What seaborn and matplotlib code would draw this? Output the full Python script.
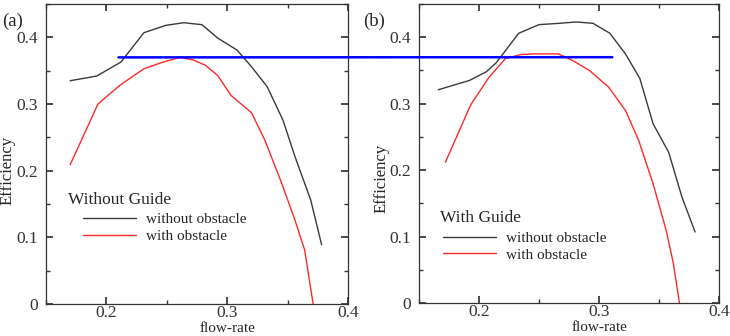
import matplotlib
matplotlib.use("Agg")
import matplotlib.pyplot as plt
from matplotlib.patches import ConnectionPatch
from matplotlib.ticker import MultipleLocator
import seaborn as sns

# panel (a): without guide
a_free_x = [0.170, 0.192, 0.212, 0.231, 0.249, 0.264, 0.279, 0.292, 0.308,
            0.320, 0.333, 0.346, 0.356, 0.369, 0.378]
a_free_y = [0.335, 0.342, 0.363, 0.407, 0.418, 0.422, 0.419, 0.399, 0.381,
            0.356, 0.326, 0.276, 0.221, 0.156, 0.089]
a_obst_x = [0.170, 0.193, 0.211, 0.231, 0.247, 0.261, 0.272, 0.282, 0.292,
            0.303, 0.320, 0.331, 0.344, 0.355, 0.364, 0.371]
a_obst_y = [0.209, 0.300, 0.328, 0.353, 0.363, 0.370, 0.366, 0.358, 0.343,
            0.313, 0.287, 0.246, 0.186, 0.131, 0.081, 0.0]

# panel (b): with guide
b_free_x = [0.166, 0.192, 0.206, 0.214, 0.220, 0.233, 0.250, 0.267, 0.281,
            0.295, 0.309, 0.322, 0.334, 0.345, 0.358, 0.369, 0.380]
b_free_y = [0.321, 0.335, 0.348, 0.361, 0.375, 0.406, 0.419, 0.421, 0.423,
            0.421, 0.406, 0.375, 0.338, 0.270, 0.227, 0.160, 0.107]
b_obst_x = [0.172, 0.193, 0.208, 0.222, 0.235, 0.246, 0.266, 0.278, 0.292,
            0.308, 0.322, 0.333, 0.345, 0.356, 0.362, 0.367]
b_obst_y = [0.212, 0.298, 0.339, 0.368, 0.374, 0.375, 0.375, 0.365, 0.350,
            0.325, 0.290, 0.245, 0.180, 0.109, 0.059, 0.0]

# horizontal reference line (blue) running from panel a into panel b
ref_level = 0.37
ref_start_a = 0.21
ref_end_b = 0.311

panel_tags = ["(a)", "(b)"]
guide_titles = ["Without Guide", "With Guide"]
series_names = ["without obstacle", "with obstacle"]
x_ticks = [0.2, 0.3, 0.4]
y_ticks = [0, 0.1, 0.2, 0.3, 0.4]

sns.set_theme(style="ticks")
plt.rcParams["font.family"] = ["Liberation Serif", "DejaVu Serif"]
plt.rcParams.update({
    "xtick.direction": "in", "ytick.direction": "in",
    "xtick.top": True, "ytick.right": True,
    "xtick.major.size": 5, "ytick.major.size": 5,
    "xtick.minor.size": 3, "ytick.minor.size": 3,
    "axes.edgecolor": "#333333", "axes.linewidth": 0.9,
    "xtick.color": "#333333", "ytick.color": "#333333",
})

fig = plt.figure(figsize=(7.3, 3.36), dpi=100)
ax1 = fig.add_axes([0.063, 0.095, 0.414, 0.893])
ax2 = fig.add_axes([0.574, 0.098, 0.411, 0.890])

panels = [
    (ax1, a_free_x, a_free_y, a_obst_x, a_obst_y),
    (ax2, b_free_x, b_free_y, b_obst_x, b_obst_y),
]
legend_pos = [(0.1225, 0.305), (0.08, 0.240)]
title_pos = [(0.073, 0.347), (0.07, 0.284)]
ylabel_xy = [(-0.10, 0.447), (-0.097, 0.418)]

for i, (ax, fx, fy, ox, oy) in enumerate(panels):
    sns.lineplot(x=fx, y=fy, ax=ax, color="#3a3a3a", lw=1.0, sort=False,
                 label=series_names[0])
    sns.lineplot(x=ox, y=oy, ax=ax, color="#ff2a2a", lw=1.0, sort=False,
                 label=series_names[1])
    ax.set_xlim(0.15, 0.4)
    ax.set_ylim(0, 0.45)
    ax.set_xticks(x_ticks)
    ax.set_xticklabels([f"{v:g}" for v in x_ticks])
    ax.set_yticks(y_ticks)
    ax.set_yticklabels([f"{v:g}" for v in y_ticks])
    ax.xaxis.set_minor_locator(MultipleLocator(0.05))
    ax.yaxis.set_minor_locator(MultipleLocator(0.05))
    ax.tick_params(axis="both", which="major", labelsize=12.5)
    ax.tick_params(axis="y", which="major", pad=6)
    ax.tick_params(axis="x", which="major", pad=0.5)
    ax.set_xlabel("flow-rate", fontsize=11, va="bottom")
    ax.xaxis.set_label_coords(0.6, -0.104)
    ax.set_ylabel("Efficiency", fontsize=12)
    ax.yaxis.set_label_coords(*ylabel_xy[i])
    ax.text(title_pos[i][0], title_pos[i][1], guide_titles[i],
            transform=ax.transAxes, fontsize=12.5, va="center", ha="left")
    ax.legend(loc="upper left", bbox_to_anchor=legend_pos[i], frameon=False,
              fontsize=11, borderpad=0, borderaxespad=0, handlelength=3.5,
              handletextpad=0.65, labelspacing=0.2)

fig.text(2 / 730, 1 - 21 / 336, panel_tags[0], fontsize=13.5, va="center")
fig.text(363 / 730, 1 - 21 / 336, panel_tags[1], fontsize=13.5, va="center")

ref = ConnectionPatch(xyA=(ref_start_a, ref_level), coordsA=ax1.transData,
                      xyB=(ref_end_b, ref_level), coordsB=ax2.transData,
                      color="#0000ff", lw=1.8, zorder=5)
fig.add_artist(ref)

fig.savefig("out.png", dpi=100)
